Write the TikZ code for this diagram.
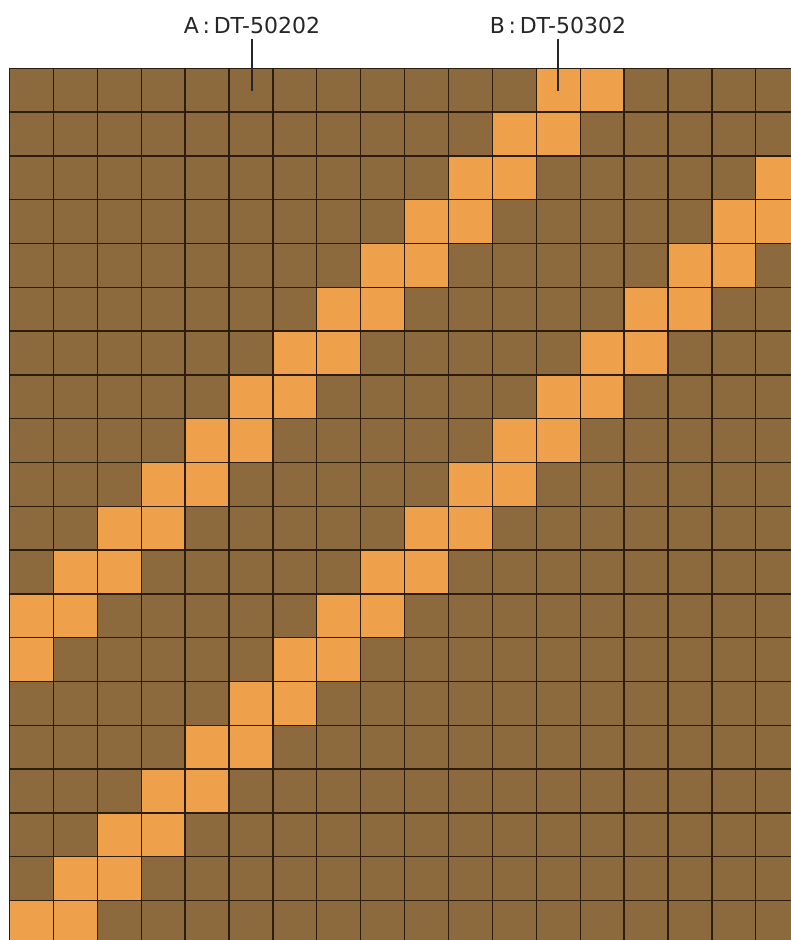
\documentclass[tikz,border=0pt]{standalone}
\usepackage{fontspec}
\setmainfont{DejaVu Sans}
\definecolor{brn}{HTML}{8C6A3E}
\definecolor{org}{HTML}{EFA04A}
\definecolor{gline}{HTML}{2A1D10}
\begin{document}
\begin{tikzpicture}[x=1pt,y=-1pt,
  gridline/.style={draw=gline, line width=1.3pt},
  lbl/.style={font=\fontsize{22}{26}\selectfont, text=black!85, inner sep=0pt},
  leader/.style={draw=black!85, line width=1.2pt}]
\useasboundingbox[fill=white] (0,0) rectangle (791,940);
\begin{scope}
\clip (0,0) rectangle (791,940);
\fill[brn] (9.5,68.3) rectangle (810,960);
\foreach \r in {0,...,19}{
  \foreach \c in {12,13,19,20}{
    \pgfmathtruncatemacro\cc{\c-\r}
    \ifnum\cc>-1
      \fill[org] (9.5+43.9*\cc, 68.3+43.8*\r) rectangle ++(43.9,43.8);
    \fi
  }
}
\foreach \c in {0,...,18}
  \draw[gridline] (9.5+43.9*\c,68.3) -- (9.5+43.9*\c,960);
\foreach \r in {0,...,20}
  \draw[gridline] (9.5,68.3+43.8*\r) -- (810,68.3+43.8*\r);
\end{scope}
\node[lbl] (la) at (252,25) {A\,:\,DT-50202};
\coordinate (pa) at (252,91);
\draw[leader] ([yshift=-5pt]la.south -| pa) -- (pa);
\node[lbl] (lb) at (558,25) {B\,:\,DT-50302};
\coordinate (pb) at (558,91);
\draw[leader] ([yshift=-5pt]lb.south -| pb) -- (pb);
\end{tikzpicture}
\end{document}
